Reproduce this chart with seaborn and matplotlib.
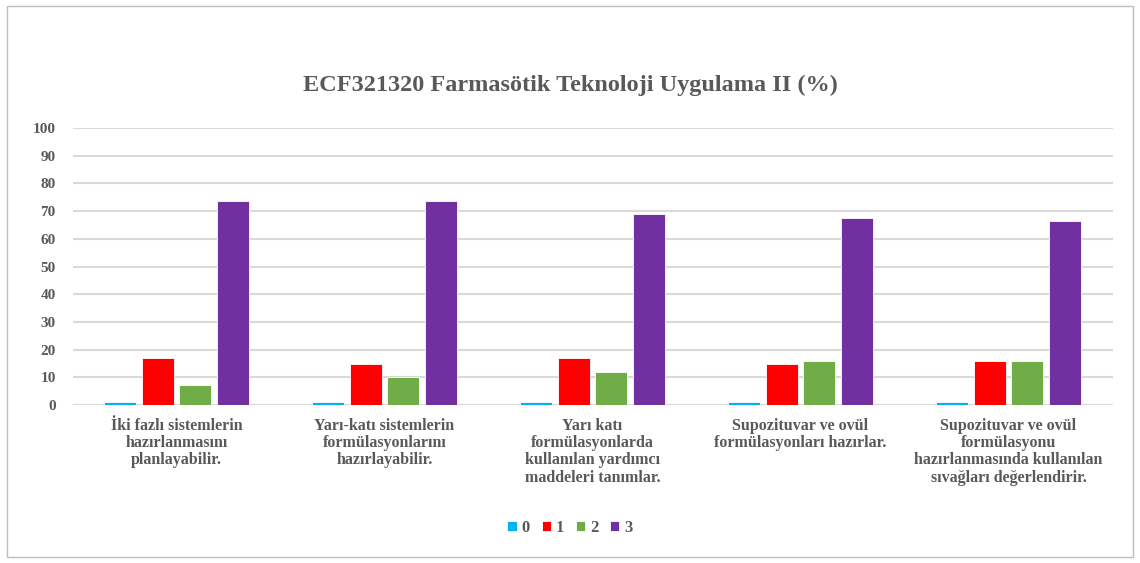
import pandas as pd
import matplotlib.pyplot as plt
import seaborn as sns
from matplotlib.patches import Rectangle

# ============================================================
# DATA
# ============================================================

outcomes = [
    "İki fazlı sistemlerin\nhazırlanmasını\nplanlayabilir.",
    "Yarı-katı sistemlerin\nformülasyonlarını\nhazırlayabilir.",
    "Yarı katı\nformülasyonlarda\nkullanılan yardımcı\nmaddeleri tanımlar.",
    "Supozituvar ve ovül\nformülasyonları hazırlar.",
    "Supozituvar ve ovül\nformülasyonu\nhazırlanmasında kullanılan\nsıvağları değerlendirir.",
]

levels = ["0", "1", "2", "3"]

score_0 = [1, 1, 1, 1, 1]
score_1 = [17, 14.7, 17, 14.7, 16]
score_2 = [7.1, 10, 12, 16, 16]
score_3 = [73.6, 73.6, 68.8, 67.6, 66.3]

colors = ["#00B0F0", "#FF0000", "#70AD47", "#7030A0"]

rows = []
for lvl, vals in zip(levels, [score_0, score_1, score_2, score_3]):
    for o, v in zip(outcomes, vals):
        rows.append({"outcome": o, "level": lvl, "value": v})
df = pd.DataFrame(rows)

# ============================================================
# PLOT
# ============================================================

sns.set_style("white")
plt.rcParams["font.family"] = ["Liberation Serif", "DejaVu Serif"]

fig = plt.figure(figsize=(11.4, 5.63), dpi=100)
ax = fig.add_axes([72.5 / 1140, 1 - 405 / 563, 1040 / 1140, 277 / 563])

sns.barplot(
    data=df,
    x="outcome",
    y="value",
    hue="level",
    hue_order=levels,
    palette=colors,
    saturation=1,
    width=0.72,
    gap=0.14,
    edgecolor="white",
    linewidth=0.6,
    ax=ax,
)

ax.set_ylim(0, 100)
ax.set_xlim(-0.5, 4.5)
ax.set_yticks(range(0, 101, 10))
ax.yaxis.grid(True, color="#D9D9D9", linewidth=1.5)
ax.set_axisbelow(True)
for s in ax.spines.values():
    s.set_visible(False)
ax.tick_params(axis="both", length=0, colors="#595959")
ax.tick_params(axis="y", pad=12)
ax.tick_params(axis="x", pad=9)
for t in ax.get_yticklabels():
    t.set_fontsize(11)
    t.set_fontweight("bold")
for t in ax.get_xticklabels():
    t.set_fontsize(11.5)
    t.set_fontweight("bold")
    t.set_linespacing(1.12)
ax.set_xlabel("")
ax.set_ylabel("")

fig.text(0.5, 1 - 85 / 563, "ECF321320 Farmasötik Teknoloji Uygulama II (%)",
         ha="center", va="center", fontsize=17.5, fontweight="bold", color="#595959")

ax.legend(
    loc="center",
    bbox_to_anchor=(0.5, (563 - 528) / 563),
    bbox_transform=fig.transFigure,
    ncol=4,
    frameon=False,
    handlelength=0.55,
    handleheight=0.55,
    handletextpad=0.3,
    columnspacing=0.7,
    prop={"size": 12, "weight": "bold"},
    labelcolor="#595959",
)

fig.patches.append(Rectangle((7 / 1140, 6 / 563), 1126 / 1140, 551 / 563,
                             transform=fig.transFigure, fill=False,
                             edgecolor="#BFBFBF", linewidth=1))

plt.savefig("out.png", dpi=100)
plt.close()
